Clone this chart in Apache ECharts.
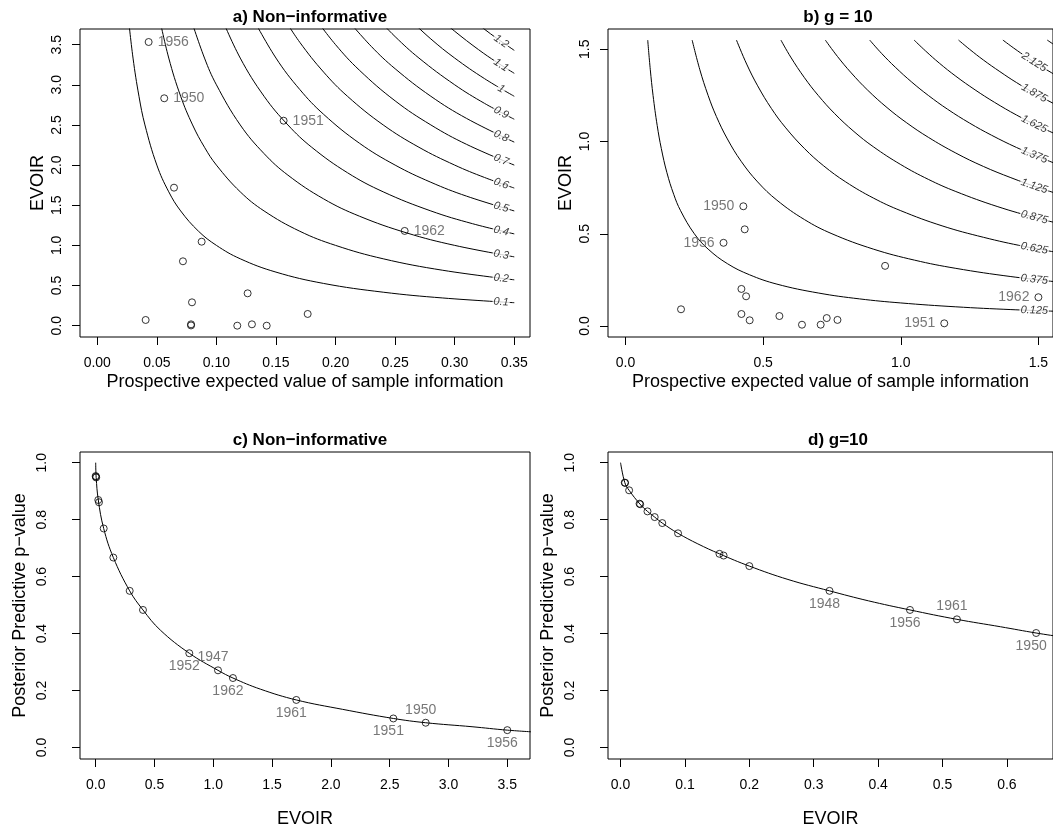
<!DOCTYPE html>
<html><head><meta charset="utf-8">
<script src="https://cdn.jsdelivr.net/npm/echarts@6/dist/echarts.min.js"></script>
<style>html,body{margin:0;padding:0;background:#fff}#chart{width:1053px;height:832px}</style>
</head><body><div id="chart"></div>
<script>
// ---------- Panel a: Non-informative (EVOIR vs prospective EVSI) ----------
const aPtX = [0.0431, 0.0562, 0.1564, 0.0644, 0.258, 0.0876, 0.0719, 0.1262, 0.0795, 0.1766, 0.0406, 0.0787, 0.0787, 0.1175, 0.1298, 0.1422];
const aPtY = [3.533, 2.832, 2.553, 1.719, 1.18, 1.046, 0.802, 0.403, 0.291, 0.146, 0.071, 0.017, 0.003, 0.0, 0.017, 0.0];
const aPtYear = ['1956', '1950', '1951', '', '1962', '', '', '', '', '', '', '', '', '', '', ''];
const aLevels = ['0.1', '0.2', '0.3', '0.4', '0.5', '0.6', '0.7', '0.8', '0.9', '1', '1.1', '1.2'];
const aContours = [
  [[0.026,3.85],[0.03,3.333],[0.035,2.857],[0.04,2.5],[0.05,2.0],[0.06,1.667],[0.07,1.429],[0.085,1.176],[0.10,1.0],[0.12,0.833],[0.15,0.667],[0.19,0.526],[0.24,0.417],[0.29,0.345],[0.35,0.286]],
  [[0.052,3.846],[0.06,3.333],[0.07,2.857],[0.08,2.5],[0.09,2.222],[0.10,2.0],[0.12,1.667],[0.14,1.429],[0.17,1.176],[0.20,1.0],[0.24,0.833],[0.29,0.69],[0.35,0.571]],
  [[0.078,3.846],[0.09,3.333],[0.10,3.0],[0.12,2.5],[0.14,2.143],[0.16,1.875],[0.19,1.579],[0.22,1.364],[0.26,1.154],[0.30,1.0],[0.35,0.857]],
  [[0.104,3.846],[0.12,3.333],[0.14,2.857],[0.16,2.5],[0.18,2.222],[0.21,1.905],[0.24,1.667],[0.28,1.429],[0.315,1.27],[0.35,1.143]],
  [[0.13,3.846],[0.15,3.333],[0.17,2.941],[0.19,2.632],[0.22,2.273],[0.25,2.0],[0.28,1.786],[0.31,1.613],[0.35,1.429]],
  [[0.156,3.846],[0.17,3.529],[0.19,3.158],[0.21,2.857],[0.24,2.5],[0.27,2.222],[0.30,2.0],[0.325,1.846],[0.35,1.714]],
  [[0.182,3.846],[0.20,3.5],[0.22,3.182],[0.25,2.8],[0.28,2.5],[0.31,2.258],[0.35,2.0]],
  [[0.208,3.846],[0.23,3.478],[0.25,3.2],[0.28,2.857],[0.31,2.581],[0.35,2.286]],
  [[0.234,3.846],[0.25,3.6],[0.27,3.333],[0.30,3.0],[0.325,2.769],[0.35,2.571]],
  [[0.26,3.846],[0.28,3.571],[0.30,3.333],[0.325,3.077],[0.35,2.857]],
  [[0.286,3.846],[0.30,3.667],[0.32,3.438],[0.335,3.284],[0.35,3.143]],
  [[0.312,3.846],[0.33,3.636],[0.35,3.429]]
];
const aLabelX = 0.339;
const aLabelY = [0.295, 0.590, 0.885, 1.180, 1.475, 1.770, 2.065, 2.360, 2.655, 2.950, 3.245, 3.540];
const aXTicks = [0, 0.05, 0.10, 0.15, 0.20, 0.25, 0.30, 0.35];
const aYTicks = [0, 0.5, 1.0, 1.5, 2.0, 2.5, 3.0, 3.5];

// ---------- Panel b: g = 10 ----------
const bPtX = [0.428, 0.433, 0.356, 0.943, 0.421, 0.438, 1.5, 0.2016, 0.421, 0.451, 0.559, 0.641, 0.709, 0.731, 0.770, 1.158];
const bPtY = [0.649, 0.524, 0.451, 0.326, 0.201, 0.161, 0.156, 0.0906, 0.065, 0.031, 0.054, 0.007, 0.007, 0.043, 0.033, 0.0145];
const bPtYear = ['1950', '', '1956', '', '', '', '1962', '', '', '', '', '', '', '', '', '1951'];
const bLevels = ['0.125', '0.375', '0.625', '0.875', '1.125', '1.375', '1.625', '1.875', '2.125', '2.375'];
const bContours = [
  [[0.0806,1.55],[0.09,1.389],[0.10,1.25],[0.115,1.087],[0.13,0.962],[0.15,0.833],[0.175,0.714],[0.2,0.625],[0.25,0.5],[0.3,0.417],[0.37,0.338],[0.45,0.278],[0.55,0.227],[0.7,0.179],[0.85,0.147],[1.0,0.125],[1.2,0.104],[1.4,0.089],[1.6,0.078]],
  [[0.242,1.55],[0.27,1.389],[0.30,1.25],[0.33,1.136],[0.37,1.014],[0.42,0.893],[0.48,0.781],[0.55,0.682],[0.65,0.577],[0.75,0.5],[0.9,0.417],[1.05,0.357],[1.2,0.3125],[1.4,0.268],[1.6,0.234]],
  [[0.403,1.55],[0.44,1.42],[0.48,1.302],[0.53,1.179],[0.58,1.078],[0.65,0.962],[0.72,0.868],[0.8,0.781],[0.9,0.694],[1.0,0.625],[1.15,0.543],[1.3,0.481],[1.45,0.431],[1.6,0.391]],
  [[0.5645,1.55],[0.6,1.458],[0.65,1.346],[0.7,1.25],[0.76,1.151],[0.83,1.054],[0.9,0.972],[1.0,0.875],[1.1,0.795],[1.2,0.729],[1.35,0.648],[1.5,0.583],[1.6,0.547]],
  [[0.7258,1.55],[0.77,1.461],[0.82,1.372],[0.88,1.278],[0.95,1.184],[1.02,1.103],[1.1,1.023],[1.2,0.9375],[1.3,0.865],[1.4,0.804],[1.5,0.75],[1.6,0.703]],
  [[0.8871,1.55],[0.93,1.478],[0.98,1.403],[1.04,1.322],[1.1,1.25],[1.17,1.175],[1.25,1.1],[1.33,1.034],[1.42,0.968],[1.5,0.917],[1.6,0.859]],
  [[1.0484,1.55],[1.09,1.491],[1.14,1.425],[1.2,1.354],[1.27,1.28],[1.34,1.213],[1.42,1.144],[1.5,1.083],[1.6,1.016]],
  [[1.2097,1.55],[1.25,1.5],[1.3,1.442],[1.36,1.379],[1.42,1.32],[1.49,1.258],[1.55,1.21],[1.6,1.172]],
  [[1.371,1.55],[1.41,1.507],[1.46,1.455],[1.51,1.407],[1.56,1.362],[1.6,1.328]],
  [[1.532,1.55],[1.56,1.522],[1.6,1.484]]
];
const bLabelX = 1.485;
const bLabelY = [0.0842, 0.2525, 0.4209, 0.5892, 0.7576, 0.9259, 1.0943, 1.2626, 1.431];
const bXTicks = [0, 0.5, 1.0, 1.5];
const bYTicks = [0, 0.5, 1.0, 1.5];

// ---------- Panel c: Non-informative (p-value vs EVOIR) ----------
const cPtX = [0.0, 0.002, 0.004, 0.022, 0.028, 0.068, 0.150, 0.289, 0.402, 0.796, 1.040, 1.167, 1.706, 2.531, 2.806, 3.5];
const cPtY = [0.953, 0.951, 0.948, 0.869, 0.861, 0.769, 0.667, 0.550, 0.483, 0.331, 0.271, 0.244, 0.167, 0.102, 0.087, 0.061];
const cPtYear = ['', '', '', '', '', '', '', '', '', '1952', '1947', '1962', '1961', '1951', '1950', '1956'];
const cCurveX = [0, 0.004, 0.022, 0.068, 0.15, 0.289, 0.402, 0.55, 0.796, 1.04, 1.167, 1.4, 1.706, 2.1, 2.531, 2.806, 3.2, 3.5, 3.75];
const cCurveY = [1.0, 0.948, 0.869, 0.769, 0.667, 0.55, 0.483, 0.412, 0.331, 0.271, 0.244, 0.205, 0.167, 0.134, 0.102, 0.087, 0.073, 0.061, 0.054];
const cXTicks = [0, 0.5, 1.0, 1.5, 2.0, 2.5, 3.0, 3.5];
const pYTicks = [0, 0.2, 0.4, 0.6, 0.8, 1.0];

// ---------- Panel d: g=10 (p-value vs EVOIR) ----------
const dPtX = [0.0066, 0.0070, 0.0133, 0.0295, 0.0305, 0.0418, 0.053, 0.0648, 0.0893, 0.1536, 0.160, 0.200, 0.3245, 0.4495, 0.5224, 0.6454];
const dPtY = [0.930, 0.929, 0.903, 0.856, 0.854, 0.829, 0.809, 0.788, 0.752, 0.680, 0.674, 0.637, 0.550, 0.483, 0.450, 0.402];
const dPtYear = ['', '', '', '', '', '', '', '', '', '', '', '', '1948', '1956', '1961', '1950'];
const dCurveX = [0.0, 0.0066, 0.0133, 0.030, 0.0418, 0.053, 0.0648, 0.0893, 0.12, 0.1536, 0.2, 0.26, 0.3245, 0.385, 0.4495, 0.5224, 0.59, 0.6454, 0.68];
const dCurveY = [1.0, 0.930, 0.903, 0.855, 0.829, 0.809, 0.788, 0.752, 0.715, 0.680, 0.637, 0.590, 0.550, 0.515, 0.483, 0.450, 0.424, 0.402, 0.390];
const dXTicks = [0, 0.1, 0.2, 0.3, 0.4, 0.5, 0.6];

// ---------- styles (not data) ----------
const FONT = "'Liberation Sans', Arial, Helvetica, sans-serif";
const aLabelAngle = [3.4, 6.7, 10, 13.2, 16.3, 19.3, 22.3, 25.1, 27.8, 30.3, 32.8, 35.1];
const bLabelAngle = [2.2, 6.5, 10.7, 14.7, 18.7, 22.5, 26.1, 29.5, 32.6];
const cSide = ['', '', '', '', '', '', '', '', '', 'bottom', 'top', 'bottom', 'bottom', 'bottom', 'top', 'bottom'];
const dSide = ['', '', '', '', '', '', '', '', '', '', '', '', 'bottom', 'bottom', 'top', 'bottom'];

function xAxis(g, min, max, ticks, dec, name, nameGap) {
  return {
    type: 'value', gridIndex: g, min: min, max: max, position: 'bottom',
    axisLine: {show: false, onZero: false}, splitLine: {show: false},
    axisTick: {show: true, inside: false, length: 8, customValues: ticks, lineStyle: {color: '#000', width: 1}},
    axisLabel: {show: true, customValues: ticks, margin: 19, fontSize: 14, color: '#000', fontFamily: FONT,
      formatter: v => Number(v).toFixed(dec)},
    name: name, nameLocation: 'middle', nameGap: nameGap, nameMoveOverlap: false,
    nameTextStyle: {fontSize: 18, color: '#000', fontFamily: FONT}
  };
}
function yAxis(g, min, max, ticks, dec, name, nameGap, labMargin) {
  return {
    type: 'value', gridIndex: g, min: min, max: max, position: 'left',
    axisLine: {show: false, onZero: false}, splitLine: {show: false},
    axisTick: {show: true, inside: false, length: 8, customValues: ticks, lineStyle: {color: '#000', width: 1}},
    axisLabel: {show: true, customValues: ticks, margin: labMargin, rotate: 90, fontSize: 14, color: '#000', fontFamily: FONT,
      formatter: v => Number(v).toFixed(dec)},
    name: name, nameLocation: 'middle', nameGap: nameGap, nameRotate: 90, nameMoveOverlap: false,
    nameTextStyle: {fontSize: 18, color: '#000', fontFamily: FONT}
  };
}
function lineSeries(g, pts, z) {
  return {type: 'line', xAxisIndex: g, yAxisIndex: g, data: pts, showSymbol: false, symbol: 'none',
    smooth: 0.4, lineStyle: {color: '#000', width: 1}, silent: true, z: z || 2, clip: true};
}
function contourLabels(g, xs, ys, texts, angles) {
  return {type: 'scatter', xAxisIndex: g, yAxisIndex: g, symbolSize: 1, z: 4, silent: true,
    itemStyle: {color: 'rgba(0,0,0,0)'},
    data: ys.map((y, i) => ({value: [xs, y], label: {formatter: texts[i], rotate: -angles[i]}})),
    label: {show: true, position: 'inside', color: '#000', fontSize: 11, fontStyle: 'italic', fontFamily: FONT,
      backgroundColor: '#fff', padding: [0, 1]}};
}
function pointSeries(g, xs, ys, years, sides, dist, off) {
  return {type: 'scatter', xAxisIndex: g, yAxisIndex: g, symbol: 'circle', symbolSize: 7, z: 5, silent: true,
    itemStyle: {color: 'rgba(0,0,0,0)', borderColor: '#000', borderWidth: 1},
    label: {show: false, color: '#555', fontSize: 14, fontFamily: FONT},
    data: xs.map((x, i) => {
      const d = {value: [x, ys[i]]};
      if (years[i]) {
        const side = typeof sides === 'string' ? sides : sides[i];
        d.label = {show: true, formatter: years[i], position: side, distance: dist,
          offset: (side === 'top' || side === 'bottom') ? off : [0, 0]};
      }
      return d;
    })};
}

const series = [];
aContours.forEach(c => series.push(lineSeries(0, c)));
series.push(contourLabels(0, aLabelX, aLabelY, aLevels, aLabelAngle));
series.push(pointSeries(0, aPtX, aPtY, aPtYear, 'right', 5, [0, 0]));
bContours.forEach(c => series.push(lineSeries(1, c)));
series.push(contourLabels(1, bLabelX, bLabelY, bLevels, bLabelAngle));
series.push(pointSeries(1, bPtX, bPtY, bPtYear, 'left', 5, [0, 0]));
series.push(lineSeries(2, cCurveX.map((x, i) => [x, cCurveY[i]])));
series.push(pointSeries(2, cPtX, cPtY, cPtYear, cSide, 2, [-5, 0]));
series.push(lineSeries(3, dCurveX.map((x, i) => [x, dCurveY[i]])));
series.push(pointSeries(3, dPtX, dPtY, dPtYear, dSide, 2, [-5, 0]));

const gridStyle = {show: true, borderColor: '#000', borderWidth: 1, backgroundColor: 'rgba(0,0,0,0)', containLabel: false};
const titleStyle = {fontSize: 17, fontWeight: 'bold', color: '#000', fontFamily: FONT};
const option = {
  animation: false,
  textStyle: {fontFamily: FONT},
  title: [
    {text: 'a) Non\u2212informative', left: 305, top: 4, textAlign: 'center', textStyle: titleStyle},
    {text: 'b) g = 10', left: 833, top: 4, textAlign: 'center', textStyle: titleStyle},
    {text: 'c) Non\u2212informative', left: 305, top: 427, textAlign: 'center', textStyle: titleStyle},
    {text: 'd) g=10', left: 833, top: 427, textAlign: 'center', textStyle: titleStyle}
  ],
  grid: [
    Object.assign({left: 80, top: 29, width: 450, height: 308}, gridStyle),
    Object.assign({left: 608, top: 29, width: 450, height: 308}, gridStyle),
    Object.assign({left: 80, top: 452, width: 450, height: 307}, gridStyle),
    Object.assign({left: 608, top: 452, width: 450, height: 307}, gridStyle)
  ],
  xAxis: [
    xAxis(0, -0.0145, 0.3632, aXTicks, 2, 'Prospective expected value of sample information', 36),
    xAxis(1, -0.0637, 1.553, bXTicks, 1, 'Prospective expected value of sample information', 36),
    xAxis(2, -0.1335, 3.693, cXTicks, 1, 'EVOIR', 51),
    xAxis(3, -0.0195, 0.6716, dXTicks, 1, 'EVOIR', 51)
  ],
  yAxis: [
    yAxis(0, -0.141, 3.695, aYTicks, 1, 'EVOIR', 33, 16),
    yAxis(1, -0.0596, 1.610, bYTicks, 1, 'EVOIR', 33, 16),
    yAxis(2, -0.0403, 1.0375, pYTicks, 1, 'Posterior Predictive p\u2212value', 51, 31),
    yAxis(3, -0.0403, 1.0375, pYTicks, 1, 'Posterior Predictive p\u2212value', 51, 31)
  ],
  series: series
};
const chart = echarts.init(document.getElementById('chart'), null, {renderer: 'canvas'});
chart.setOption(option);
</script></body></html>
